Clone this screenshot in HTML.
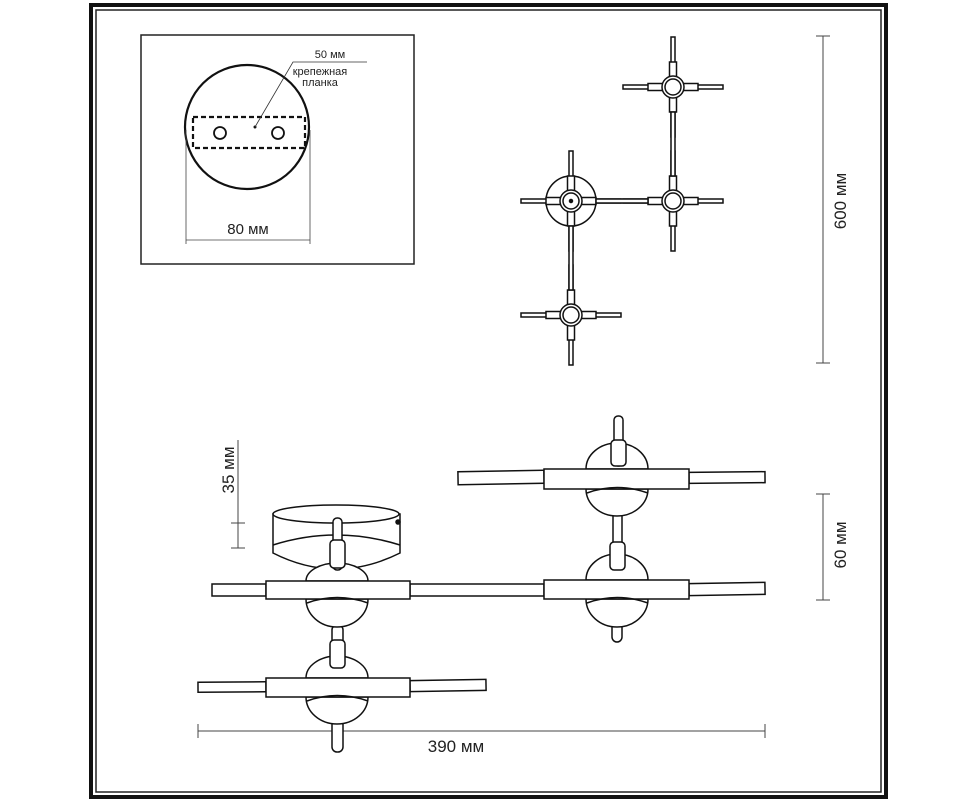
<!DOCTYPE html>
<html><head><meta charset="utf-8"><style>
html,body{margin:0;padding:0;background:#fff;}
svg{display:block;}
text{font-family:"Liberation Sans",sans-serif;fill:#222;}
</style></head><body>
<svg width="978" height="800" viewBox="0 0 978 800" xmlns="http://www.w3.org/2000/svg">
<!-- frame -->
<rect x="91" y="5" width="795" height="792" fill="none" stroke="#111" stroke-width="4"/>
<rect x="96" y="10" width="785" height="782" fill="none" stroke="#222" stroke-width="1.5"/>

<!-- inset box -->
<rect x="141" y="35" width="273" height="229" fill="none" stroke="#222" stroke-width="1.5"/>
<circle cx="247" cy="127" r="62" fill="none" stroke="#111" stroke-width="2.2"/>
<rect x="193" y="117" width="112" height="31" fill="none" stroke="#111" stroke-width="2.2" stroke-dasharray="5,3"/>
<circle cx="220" cy="133" r="6" fill="none" stroke="#111" stroke-width="1.8"/>
<circle cx="278" cy="133" r="6" fill="none" stroke="#111" stroke-width="1.8"/>
<circle cx="255" cy="127" r="1.5" fill="#111"/>
<polyline points="255,127 293,62 367,62" fill="none" stroke="#333" stroke-width="0.8"/>
<text x="330" y="58" font-size="11" text-anchor="middle">50 мм</text>
<text x="320" y="75" font-size="11" text-anchor="middle">крепежная</text>
<text x="320" y="86" font-size="11" text-anchor="middle">планка</text>
<line x1="186" y1="130" x2="186" y2="244" stroke="#444" stroke-width="0.8"/>
<line x1="310" y1="130" x2="310" y2="244" stroke="#444" stroke-width="0.8"/>
<line x1="186" y1="240" x2="310" y2="240" stroke="#444" stroke-width="0.8"/>
<text x="248" y="234" font-size="15" text-anchor="middle">80 мм</text>

<!-- top view crosses -->
<g fill="#fff" stroke="#111" stroke-width="1.5">
  <circle cx="571" cy="201" r="25"/>
</g>
<g fill="#fff" stroke="#111" stroke-width="1.5">
  <g transform="translate(673,87)">
    <rect x="-2" y="-50" width="4" height="100"/><rect x="-50" y="-2" width="100" height="4"/>
    <rect x="-3.5" y="-25" width="7" height="50"/><rect x="-25" y="-3.5" width="50" height="7"/>
  </g>
  <g transform="translate(673,201)">
    <rect x="-2" y="-50" width="4" height="100"/><rect x="-50" y="-2" width="100" height="4"/>
    <rect x="-3.5" y="-25" width="7" height="50"/><rect x="-25" y="-3.5" width="50" height="7"/>
  </g>
  <g transform="translate(571,201)">
    <rect x="-2" y="-50" width="4" height="100"/><rect x="-50" y="-2" width="100" height="4"/>
    <rect x="-3.5" y="-25" width="7" height="50"/><rect x="-25" y="-3.5" width="50" height="7"/>
  </g>
  <g transform="translate(571,315)">
    <rect x="-2" y="-50" width="4" height="100"/><rect x="-50" y="-2" width="100" height="4"/>
    <rect x="-3.5" y="-25" width="7" height="50"/><rect x="-25" y="-3.5" width="50" height="7"/>
  </g>
  <!-- connectors on top -->
  <rect x="596" y="199" width="52" height="4"/>
  <rect x="569" y="226" width="4" height="64"/>
  <rect x="671" y="112" width="4" height="64"/>
  <circle cx="673" cy="87" r="11"/><circle cx="673" cy="87" r="8"/>
  <circle cx="673" cy="201" r="11"/><circle cx="673" cy="201" r="8"/>
  <circle cx="571" cy="201" r="11"/><circle cx="571" cy="201" r="8"/><circle cx="571" cy="201" r="1.5" fill="#111"/>
  <circle cx="571" cy="315" r="11"/><circle cx="571" cy="315" r="8"/>
</g>

<!-- 600 mm -->
<line x1="823" y1="36" x2="823" y2="363" stroke="#444" stroke-width="1"/>
<line x1="816" y1="36" x2="830" y2="36" stroke="#444" stroke-width="1"/>
<line x1="816" y1="363" x2="830" y2="363" stroke="#444" stroke-width="1"/>
<text font-size="17" text-anchor="middle" transform="translate(846,201) rotate(-90)">600 мм</text>
<!-- 60 mm -->
<line x1="823" y1="494" x2="823" y2="600" stroke="#444" stroke-width="1"/>
<line x1="816" y1="494" x2="830" y2="494" stroke="#444" stroke-width="1"/>
<line x1="816" y1="600" x2="830" y2="600" stroke="#444" stroke-width="1"/>
<text font-size="17" text-anchor="middle" transform="translate(846,545) rotate(-90)">60 мм</text>
<!-- 35 mm -->
<line x1="238" y1="440" x2="238" y2="548" stroke="#444" stroke-width="1"/>
<line x1="231" y1="523" x2="245" y2="523" stroke="#444" stroke-width="1"/>
<line x1="231" y1="548" x2="245" y2="548" stroke="#444" stroke-width="1"/>
<text font-size="17" text-anchor="middle" transform="translate(234,470) rotate(-90)">35 мм</text>
<!-- 390 mm -->
<line x1="198" y1="731" x2="765" y2="731" stroke="#444" stroke-width="1"/>
<line x1="198" y1="724" x2="198" y2="738" stroke="#444" stroke-width="1"/>
<line x1="765" y1="724" x2="765" y2="738" stroke="#444" stroke-width="1"/>
<text x="456" y="752" font-size="17" text-anchor="middle">390 мм</text>

<!-- side view -->
<g fill="#fff" stroke="#111" stroke-width="1.5">
  <!-- canopy -->
  <path d="M273,514 L273,553 Q336,585 400,553 L400,514 Z"/>
  <ellipse cx="336" cy="514" rx="63" ry="9"/>
  <path d="M273,545 Q336,525 400,545" fill="none"/>
  <circle cx="398" cy="522" r="2" fill="#111"/>
  <!-- connecting rod -->
  <rect x="410" y="584" width="134" height="12"/>
  <!-- right vertical stem -->
  <rect x="613" y="508" width="9" height="50" rx="3"/>

  <!-- hub A (left middle) cx=337 -->
  <rect x="212" y="584" width="54" height="12"/>
  <rect x="332" y="625" width="11" height="37" rx="5"/>
  <path d="M306,581 A31,18 0 0 1 368,581 Z"/>
  <path d="M306,599 A31,28 0 0 0 368,599 Z"/>
  <rect x="266" y="581" width="144" height="18"/>
  <path d="M307,603 Q337,592 368,603" fill="none"/>
  <rect x="333" y="518" width="9" height="52" rx="4"/>
  <rect x="330" y="540" width="15" height="28" rx="4"/>

  <!-- hub B (left lower) cx=337 -->
  <rect x="198" y="682" width="68" height="10" transform="rotate(-0.4 232 687)"/>
  <rect x="410" y="680" width="76" height="11" transform="rotate(-1 448 685)"/>
  <rect x="332" y="720" width="11" height="32" rx="5"/>
  <path d="M306,678 A31,22 0 0 1 368,678 Z"/>
  <path d="M306,697 A31,27 0 0 0 368,697 Z"/>
  <rect x="266" y="678" width="144" height="19"/>
  <path d="M307,701 Q337,690 368,701" fill="none"/>
  <rect x="330" y="640" width="15" height="28" rx="4"/>

  <!-- hub C (right middle) cx=617 -->
  <rect x="689" y="583" width="76" height="12" transform="rotate(-1 727 589)"/>
  <rect x="612" y="615" width="10" height="27" rx="5"/>
  <path d="M586,580 A31,26 0 0 1 648,580 Z"/>
  <path d="M586,599 A31,28 0 0 0 648,599 Z"/>
  <rect x="544" y="580" width="145" height="19"/>
  <path d="M587,603 Q617,592 648,603" fill="none"/>
  <rect x="610" y="542" width="15" height="28" rx="4"/>

  <!-- hub D (right upper) cx=617 -->
  <rect x="458" y="471" width="86" height="13" transform="rotate(-1 500 477)"/>
  <rect x="689" y="472" width="76" height="11" transform="rotate(-0.5 727 477)"/>
  <path d="M586,469 A31,26 0 0 1 648,469 Z"/>
  <path d="M586,489 A31,27 0 0 0 648,489 Z"/>
  <rect x="544" y="469" width="145" height="20"/>
  <path d="M587,493 Q617,482 648,493" fill="none"/>
  <rect x="614" y="416" width="9" height="50" rx="4"/>
  <rect x="611" y="440" width="15" height="26" rx="4"/>
</g>
</svg>
</body></html>
